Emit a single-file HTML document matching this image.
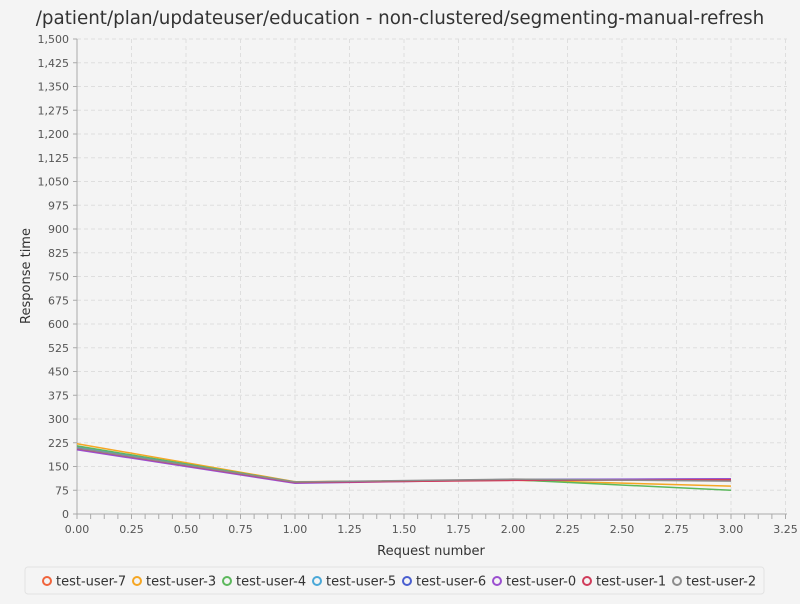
<!DOCTYPE html>
<html><head><meta charset="utf-8"><style>
body{margin:0;background:#f4f4f4;font-family:"DejaVu Sans","Liberation Sans",sans-serif;}
svg text{font-family:"DejaVu Sans","Liberation Sans",sans-serif;}
</style></head><body>
<svg id="c" width="800" height="600">
<rect width="800" height="600" fill="#f4f4f4"/>
<text x="400" y="24" text-anchor="middle" font-size="18.3" fill="#333">/patient/plan/updateuser/education - non-clustered/segmenting-manual-refresh</text>
<g id="grid"></g><g id="axes"></g><g id="series"></g>
<text x="431" y="555" text-anchor="middle" font-size="13" fill="#333">Request number</text>
<text transform="translate(30,276) rotate(-90)" text-anchor="middle" font-size="13" fill="#333">Response time</text>
<rect x="25" y="567" width="739" height="27" rx="3" fill="#f4f4f4" stroke="#e2e2e2"/>
<g id="legend"></g>
</svg>
<script>
const categories=[0,1,2,3];
const seriesNames=["test-user-7","test-user-3","test-user-4","test-user-5","test-user-6","test-user-0","test-user-1","test-user-2"];
const seriesColors=["#f0643c","#f5a623","#5cb85c","#4aa8d8","#4a5fd0","#9b4fd0","#d03c5a","#8c8c8c"];
const v7=[212,101,107,110];
const v3=[222,102,107,88];
const v4=[215,101,108,75];
const v5=[210,100,108,110];
const v6=[205,99,109,111];
const v0=[203,97,108,111];
const v1=[207,100,106,108];
const v2=[208,101,110,104];
const seriesValues=[v7,v3,v4,v5,v6,v0,v1,v2];
const yTicks=[0,75,150,225,300,375,450,525,600,675,750,825,900,975,1050,1125,1200,1275,1350,1425,1500];
const xTicks=[0,0.25,0.5,0.75,1,1.25,1.5,1.75,2,2.25,2.5,2.75,3,3.25];
const X0=77,X1=785.5,Y0=514,Y1=39;
const xs=v=>X0+(X1-X0)*v/3.25, ys=v=>Y0-(Y0-Y1)*v/1500;
const NS="http://www.w3.org/2000/svg";
function mk(t,a,p){const e=document.createElementNS(NS,t);for(const k in a)e.setAttribute(k,a[k]);p.appendChild(e);return e;}
const grid=document.getElementById('grid'),axes=document.getElementById('axes'),ser=document.getElementById('series'),leg=document.getElementById('legend');
yTicks.forEach(t=>{const y=ys(t);
 const l=mk('line',{x1:X0,x2:787,y1:y,y2:y,stroke:'#dedede','stroke-dasharray':'4,3'},grid);
 
 mk('line',{x1:X0-4,x2:X0,y1:y,y2:y,stroke:'#aaa'},axes);
 const tx=mk('text',{x:X0-8,y:y+4,'text-anchor':'end','font-size':11,fill:'#555'},axes);tx.textContent=t.toLocaleString('en-US');
 });
xTicks.forEach(t=>{const x=xs(t);
 const l=mk('line',{x1:x,x2:x,y1:Y1,y2:Y0,stroke:'#dedede','stroke-dasharray':'4,3'},grid);
 
 const tx=mk('text',{x:x,y:533,'text-anchor':'middle','font-size':11,fill:'#555'},axes);tx.textContent=t.toFixed(2);
 });
for(let t=0;t<=3.26;t+=0.0625){const x=xs(t);mk('line',{x1:x,x2:x,y1:Y0,y2:Y0+5,stroke:'#aaa'},axes);}
mk('line',{x1:X0,x2:787,y1:Y0,y2:Y0,stroke:'#aaa'},axes);
mk('line',{x1:X0,x2:X0,y1:Y1,y2:Y0,stroke:'#aaa'},axes);
seriesValues.forEach((vals,i)=>{
 const p=mk('polyline',{points:vals.map((v,j)=>xs(categories[j])+','+ys(v)).join(' '),fill:'none',stroke:seriesColors[i],'stroke-width':1.5},ser);
 });
let lx=42;
seriesNames.forEach((n,i)=>{
 const g=mk('g',{},leg);
 
 mk('circle',{cx:lx+5,cy:581,r:4,fill:'none',stroke:seriesColors[i],'stroke-width':2},g);
 const t=mk('text',{x:lx+14,y:585.5,'font-size':13,fill:'#333'},g);t.textContent=n;
 lx+=90;});
</script>
</body></html>
